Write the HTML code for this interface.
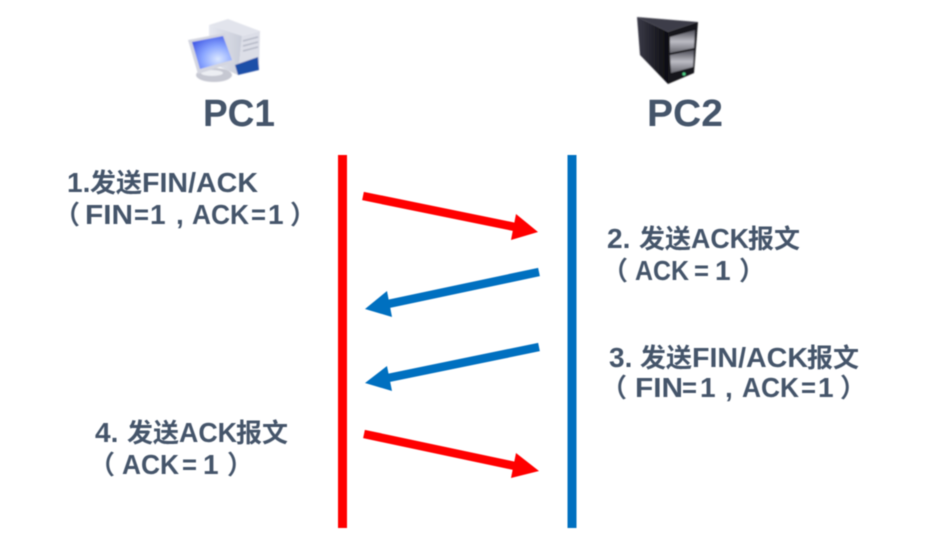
<!DOCTYPE html>
<html><head><meta charset="utf-8"><style>
html,body{margin:0;padding:0;background:#fff}
svg{display:block}
text{font-family:"Liberation Sans","Noto Sans CJK SC",sans-serif;font-weight:bold;fill:#44546a}
.l{font-size:28px}.c{font-size:26px}.t{font-size:38px}
</style></head><body>
<svg width="939" height="549" viewBox="0 0 939 549" xmlns="http://www.w3.org/2000/svg">
<defs>
<filter id="b" x="-5%" y="-5%" width="110%" height="110%"><feGaussianBlur stdDeviation="0.5"/></filter>
<filter id="b2" x="-5%" y="-5%" width="110%" height="110%"><feGaussianBlur stdDeviation="0.7"/></filter>
<radialGradient id="scr" cx="0.65" cy="0.7" r="0.8"><stop offset="0" stop-color="#dbe8ff"/><stop offset="0.5" stop-color="#88a4ff"/><stop offset="1" stop-color="#4058e4"/></radialGradient>
<linearGradient id="tow" x1="0" y1="0" x2="1" y2="0"><stop offset="0" stop-color="#e6e8f0"/><stop offset="1" stop-color="#c8ccd8"/></linearGradient>
<linearGradient id="srv" x1="0" y1="0" x2="1" y2="0"><stop offset="0" stop-color="#3a3a48"/><stop offset="1" stop-color="#0c0c10"/></linearGradient>
<linearGradient id="bay" x1="0" y1="0" x2="0" y2="1"><stop offset="0" stop-color="#4c4c56"/><stop offset="0.5" stop-color="#bcbcc4"/><stop offset="1" stop-color="#66666e"/></linearGradient>
</defs>

<!-- PC icon -->
<g filter="url(#b2)">
<polygon points="209,25 228,19 260,31 242,36" fill="#e2e4ec"/>
<polygon points="209,25 242,36 238,75 209,62" fill="url(#tow)"/>
<polygon points="242,36 260,31 259,70 238,75" fill="#dcdee7"/>
<path d="M243,41l15,-4M243,46l15,-4M243,51l15,-4" stroke="#b4b8c6" stroke-width="1.5"/>
<polygon points="235,65 258,57 259,70 238,75" fill="#1d4fa8"/>
<ellipse cx="214" cy="75" rx="18" ry="7" fill="#c6c8d2"/>
<ellipse cx="212" cy="73" rx="11" ry="3" fill="#eceef3"/>
<polygon points="188,40 225,33 235,62 198,74" fill="#d4d6e0"/>
<polygon points="192,42 223,36 232,60 200,69" fill="url(#scr)"/>
</g>

<!-- Server icon -->
<g filter="url(#b2)">
<polygon points="637,17 698,22 668,32" fill="#3e3e4a"/>
<polygon points="637,17 668,32 668,84 640,55" fill="url(#srv)"/>
<polygon points="668,32 698,22 694,73 668,84" fill="#15151a"/>
<polygon points="670,37 695,30 694,48 670,53" fill="url(#bay)"/>
<polygon points="670,55 694,50 693,67 671,73" fill="url(#bay)"/>
<circle cx="684" cy="74" r="1.5" fill="#4fd58a"/>
</g>

<g filter="url(#b)">
<text class="t" x="203" y="126" textLength="72" lengthAdjust="spacingAndGlyphs">PC1</text>
<text class="t" x="647" y="126" textLength="76" lengthAdjust="spacingAndGlyphs">PC2</text>

<!-- label 1 -->
<text class="l" x="67" y="192">1.</text>
<text class="c" x="90" y="192">发送</text>
<text class="l" x="142" y="192" textLength="116" lengthAdjust="spacingAndGlyphs">FIN/ACK</text>
<text class="c" x="54" y="224">（</text>
<text class="l" x="85" y="224" textLength="48" lengthAdjust="spacingAndGlyphs">FIN</text>
<text class="l" x="134" y="224" textLength="15" lengthAdjust="spacingAndGlyphs">=</text>
<text class="l" x="150" y="224">1</text>
<text class="l" x="176" y="224">,</text>
<text class="l" x="192" y="224" textLength="57" lengthAdjust="spacingAndGlyphs">ACK</text>
<text class="l" x="251" y="224" textLength="15" lengthAdjust="spacingAndGlyphs">=</text>
<text class="l" x="268" y="224">1</text>
<text class="c" x="290" y="224">）</text>

<!-- label 2 -->
<text class="l" x="607" y="248">2.</text>
<text class="c" x="639" y="248">发送</text>
<text class="l" x="691" y="248" textLength="58" lengthAdjust="spacingAndGlyphs">ACK</text>
<text class="c" x="748" y="248">报文</text>
<text class="c" x="602" y="280">（</text>
<text class="l" x="635" y="280" textLength="54" lengthAdjust="spacingAndGlyphs">ACK</text>
<text class="l" x="694" y="280" textLength="15" lengthAdjust="spacingAndGlyphs">=</text>
<text class="l" x="715" y="280">1</text>
<text class="c" x="739" y="280">）</text>

<!-- label 3 -->
<text class="l" x="609" y="367">3.</text>
<text class="c" x="640" y="367">发送</text>
<text class="l" x="692" y="367" textLength="116" lengthAdjust="spacingAndGlyphs">FIN/ACK</text>
<text class="c" x="807" y="367">报文</text>
<text class="c" x="601" y="397">（</text>
<text class="l" x="635" y="397" textLength="48" lengthAdjust="spacingAndGlyphs">FIN</text>
<text class="l" x="682" y="397" textLength="15" lengthAdjust="spacingAndGlyphs">=</text>
<text class="l" x="700" y="397">1</text>
<text class="l" x="725" y="397">,</text>
<text class="l" x="742" y="397" textLength="57" lengthAdjust="spacingAndGlyphs">ACK</text>
<text class="l" x="801" y="397" textLength="15" lengthAdjust="spacingAndGlyphs">=</text>
<text class="l" x="818" y="397">1</text>
<text class="c" x="840" y="397">）</text>

<!-- label 4 -->
<text class="l" x="95" y="442">4.</text>
<text class="c" x="127" y="442">发送</text>
<text class="l" x="179" y="442" textLength="58" lengthAdjust="spacingAndGlyphs">ACK</text>
<text class="c" x="236" y="442">报文</text>
<text class="c" x="89" y="474">（</text>
<text class="l" x="122" y="474" textLength="57" lengthAdjust="spacingAndGlyphs">ACK</text>
<text class="l" x="182" y="474" textLength="15" lengthAdjust="spacingAndGlyphs">=</text>
<text class="l" x="203" y="474">1</text>
<text class="c" x="227" y="474">）</text>

<rect x="338" y="155" width="9" height="373" fill="#ff0000"/>
<rect x="567.500" y="155" width="9" height="373" fill="#0070c0"/>

<line x1="363" y1="196" x2="515" y2="227" stroke="#ff0000" stroke-width="8.500"/>
<polygon points="538,232 516,214 511,240" fill="#ff0000"/>

<line x1="539" y1="272" x2="388" y2="304" stroke="#0070c0" stroke-width="8.500"/>
<polygon points="365,309 387,291 392,317" fill="#0070c0"/>

<line x1="539" y1="347" x2="388" y2="378" stroke="#0070c0" stroke-width="8.500"/>
<polygon points="365,383 387,366 392,391" fill="#0070c0"/>

<line x1="364" y1="434" x2="515" y2="466" stroke="#ff0000" stroke-width="8.500"/>
<polygon points="539,471 516,453 511,478" fill="#ff0000"/>
</g>
</svg>
</body></html>
